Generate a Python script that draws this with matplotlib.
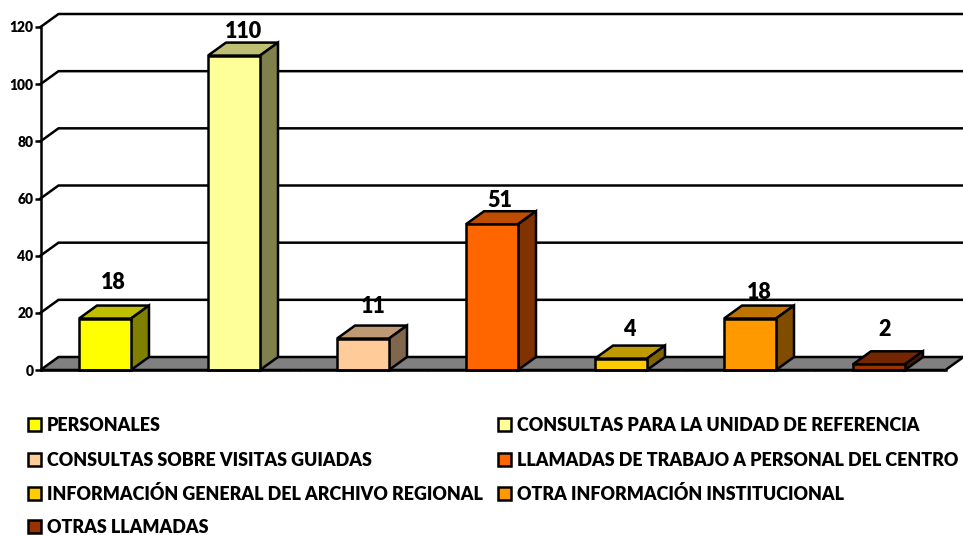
import matplotlib
matplotlib.use("Agg")
import matplotlib.pyplot as plt
from matplotlib.patches import Polygon, Rectangle

categories = [
    "PERSONALES",
    "CONSULTAS PARA LA UNIDAD DE REFERENCIA",
    "CONSULTAS SOBRE VISITAS GUIADAS",
    "LLAMADAS DE TRABAJO A PERSONAL DEL CENTRO",
    "INFORMACIÓN GENERAL DEL ARCHIVO REGIONAL",
    "OTRA INFORMACIÓN INSTITUCIONAL",
    "OTRAS LLAMADAS",
]
values = [18, 110, 11, 51, 4, 18, 2]
colors = ["#FFFF00", "#FFFF99", "#FFCC99", "#FF6600", "#FFCC00", "#FF9900", "#993300"]
y_ticks = [0, 20, 40, 60, 80, 100, 120]

# where each value label sits, in axis units (they are not evenly placed)
label_y = [30.5, 118.3, 22.1, 59.2, 14.0, 27.2, 14.0]
label_dx = [0.062, 0.07, 0.078, 0.062, 0.062, 0.07, 0.04]

W, H = 963, 535
PX_X = 129.0
PX_Y = 343 / 120
DEPTH_X = 18 / PX_X
DEPTH_Y = 13 / PX_Y
BAR_W = 52 / PX_X
LW = 1.8

plt.rcParams["font.family"] = ["Lato", "DejaVu Sans"]
plt.rcParams["font.weight"] = "heavy"

fig = plt.figure(figsize=(W / 100, H / 100), dpi=100)
ax = fig.add_axes([0, 0, 1, 1])
ax.set_xlim(-105 / PX_X, (W - 105) / PX_X)
ax.set_ylim((370 - H) / PX_Y, 370 / PX_Y)
ax.patch.set_visible(False)


def shade(color, f):
    r, g, b = matplotlib.colors.to_rgb(color)
    return (r * f, g * f, b * f)


x0 = -0.5
x_end = x0 + 905 / PX_X

# floor
ax.add_patch(Polygon(
    [(x0, 0), (x0 + DEPTH_X, DEPTH_Y), (x_end + DEPTH_X, DEPTH_Y), (x_end, 0)],
    facecolor="#808080", edgecolor="black", lw=LW, zorder=1,
))

# back wall lines and the diagonals
for t in y_ticks[1:]:
    ax.plot([x0, x0 + DEPTH_X, x_end + DEPTH_X], [t, t + DEPTH_Y, t + DEPTH_Y],
            color="black", lw=LW, zorder=1, solid_joinstyle="miter")

# bars
for i, (v, c) in enumerate(zip(values, colors)):
    left = i - BAR_W / 2
    right = i + BAR_W / 2
    ax.add_patch(Polygon(
        [(left, v), (left + DEPTH_X, v + DEPTH_Y), (right + DEPTH_X, v + DEPTH_Y), (right, v)],
        facecolor=shade(c, 0.75), edgecolor="black", lw=LW, zorder=3,
    ))
    ax.add_patch(Polygon(
        [(right, 0), (right + DEPTH_X, DEPTH_Y), (right + DEPTH_X, v + DEPTH_Y), (right, v)],
        facecolor=shade(c, 0.5), edgecolor="black", lw=LW, zorder=3,
    ))
    ax.bar(i, v, width=BAR_W, color=c, edgecolor="black", lw=LW, zorder=4)
    ax.text(i + label_dx[i], label_y[i], str(v), ha="center", va="center",
            fontsize=15.5, fontweight="heavy", color="black", zorder=5)

# axes
for side in ["top", "right"]:
    ax.spines[side].set_visible(False)
ax.spines["left"].set_position(("data", x0))
ax.spines["left"].set_bounds(0, 120)
ax.spines["bottom"].set_position(("data", 0))
ax.spines["bottom"].set_bounds(x0, x_end)
for side in ["left", "bottom"]:
    ax.spines[side].set_linewidth(LW)
    ax.spines[side].set_zorder(6)
ax.set_yticks(y_ticks)
ax.set_yticklabels([str(t) for t in y_ticks], fontsize=10, fontweight="heavy")
ax.set_xticks([x0 + k for k in range(len(values) + 1)])
ax.set_xticklabels([])
ax.tick_params(axis="y", length=4, width=LW, pad=1)
ax.tick_params(axis="x", length=1, width=0.5)

# legend
col_x = [28, 498]
row_y = [424, 459, 493, 526]
for k, (name, c) in enumerate(zip(categories, colors)):
    px = col_x[k % 2]
    py = row_y[k // 2]
    fig.add_artist(Rectangle((px / W, 1 - (py + 6.5) / H), 13 / W, 13 / H,
                             transform=fig.transFigure, facecolor=c,
                             edgecolor="black", lw=LW))
    fig.text((px + 19) / W, 1 - py / H, name, ha="left", va="center_baseline",
             fontsize=12.9, fontweight="heavy", color="black")

fig.savefig("out.png", dpi=100)
